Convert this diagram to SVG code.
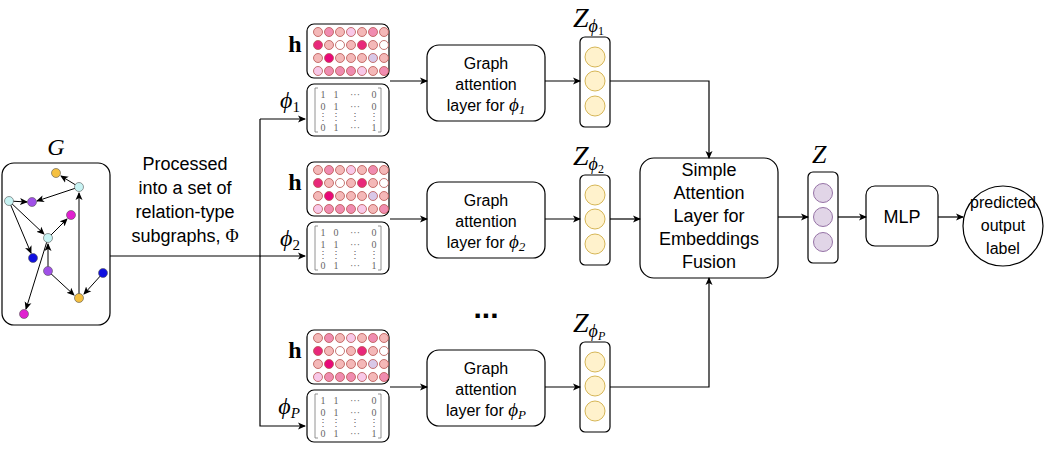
<svg xmlns="http://www.w3.org/2000/svg" width="1062" height="463" viewBox="0 0 1062 463">
<defs>
<marker id="a" markerWidth="8" markerHeight="8" refX="7" refY="4" orient="auto" markerUnits="userSpaceOnUse"><path d="M0,0.5 L8,4 L0,7.5 L2,4 Z" fill="#000"/></marker>
<g id="hgrid">
<rect x="307" y="24" width="82" height="54" rx="7" fill="#fff" stroke="#000" stroke-width="1.2"/>
<g stroke="#b85450" stroke-width="0.8">
<circle cx="318" cy="32" r="4.5" fill="#f4b8b8"/><circle cx="329" cy="32" r="4.5" fill="#f08cb0"/><circle cx="340" cy="32" r="4.5" fill="#f4b8b8"/><circle cx="351" cy="32" r="4.5" fill="#f8c8e8"/><circle cx="362" cy="32" r="4.5" fill="#f4b8b8"/><circle cx="373" cy="32" r="4.5" fill="#f08cb0"/><circle cx="384" cy="32" r="4.5" fill="#f4b8b8"/>
<circle cx="318" cy="45" r="4.5" fill="#e8287a"/><circle cx="329" cy="45" r="4.5" fill="#f4b8b8"/><circle cx="340" cy="45" r="4.5" fill="#fff"/><circle cx="351" cy="45" r="4.5" fill="#f4b8b8"/><circle cx="362" cy="45" r="4.5" fill="#e8287a"/><circle cx="373" cy="45" r="4.5" fill="#f4b8b8"/><circle cx="384" cy="45" r="4.5" fill="#fff"/>
<circle cx="318" cy="58" r="4.5" fill="#f4b8b8"/><circle cx="329" cy="58" r="4.5" fill="#e8087a"/><circle cx="340" cy="58" r="4.5" fill="#f4b8b8"/><circle cx="351" cy="58" r="4.5" fill="#f4b8b8"/><circle cx="362" cy="58" r="4.5" fill="#f4b8b8"/><circle cx="373" cy="58" r="4.5" fill="#d8c8e8"/><circle cx="384" cy="58" r="4.5" fill="#f4b8b8"/>
<circle cx="318" cy="71" r="4.5" fill="#f8c8e8"/><circle cx="329" cy="71" r="4.5" fill="#f08cb0"/><circle cx="340" cy="71" r="4.5" fill="#f08cb0"/><circle cx="351" cy="71" r="4.5" fill="#f08cb0"/><circle cx="362" cy="71" r="4.5" fill="#f8c8e8"/><circle cx="373" cy="71" r="4.5" fill="#f4b8b8"/><circle cx="384" cy="71" r="4.5" fill="#f08cb0"/>
</g>
<text x="295" y="52" font-family="Liberation Serif, serif" font-weight="bold" font-size="24" text-anchor="middle">h</text>
</g>
<g id="zcol">
<rect x="580" y="37" width="30" height="90" rx="5" fill="#fff" stroke="#000" stroke-width="1.2"/>
<g fill="#fff2cc" stroke="#d6b656"><circle cx="595" cy="57" r="10"/><circle cx="595" cy="81" r="10"/><circle cx="595" cy="106" r="10"/></g>
</g>
</defs>
<style>
.t{font-family:"Liberation Sans",Arial,sans-serif;font-size:16px;text-anchor:middle}
.p{font-family:"Liberation Sans",Arial,sans-serif;font-size:18px;text-anchor:middle}
.m{font-family:"Liberation Serif",serif;font-size:10px;fill:#666;text-anchor:middle}
.mi{font-family:"Liberation Serif",serif;font-style:italic}
.box{fill:#fff;stroke:#000;stroke-width:1.2}
.c{fill:none;stroke:#000;stroke-width:1.2}
</style>

<g id="graph">
<text x="56" y="155" class="mi" font-size="24" text-anchor="middle">G</text>
<rect x="2" y="163" width="108" height="162" rx="12" class="box"/>
<g stroke="#000" stroke-width="1" marker-end="url(#a)">
<line x1="79" y1="187" x2="61" y2="176"/>
<line x1="79" y1="187" x2="37" y2="201"/>
<line x1="9" y1="201" x2="27" y2="202"/>
<line x1="9" y1="201" x2="31" y2="253"/>
<line x1="9" y1="201" x2="44" y2="234"/>
<line x1="48" y1="238" x2="67" y2="219"/>
<line x1="48" y1="238" x2="26" y2="309"/>
<line x1="48" y1="271" x2="48" y2="244"/>
<line x1="48" y1="271" x2="74" y2="295"/>
<line x1="103" y1="273" x2="84" y2="294"/>
<line x1="79" y1="298" x2="79" y2="193"/>
</g>
<g stroke="#555" stroke-width="0.6">
<circle cx="56" cy="173" r="4.5" fill="#f5c040"/><circle cx="79" cy="187" r="4.5" fill="#c8f4f4"/><circle cx="9" cy="201" r="4.5" fill="#c8f4f4"/><circle cx="32" cy="202" r="4.5" fill="#a050e8"/><circle cx="71" cy="215" r="4.5" fill="#e020d0"/><circle cx="48" cy="238" r="4.5" fill="#c8f4f4"/><circle cx="33" cy="258" r="4.5" fill="#1010e0"/><circle cx="48" cy="271" r="4.5" fill="#a050e8"/><circle cx="103" cy="273" r="4.5" fill="#1010e0"/><circle cx="79" cy="298" r="4.5" fill="#f5c040"/><circle cx="24" cy="314" r="4.5" fill="#e020d0"/>
</g>
</g>

<g id="process-label">
<text class="p" x="185" y="170">Processed</text>
<text class="p" x="185" y="194">into a set of</text>
<text class="p" x="185" y="218">relation-type</text>
<text class="p" x="185" y="242">subgraphs, <tspan font-family="Liberation Serif, serif">Φ</tspan></text>
</g>

<g id="panel1">
<use href="#hgrid"/>
<rect x="307" y="84" width="82" height="52" rx="7" class="box"/>
<path d="M318,88 h-3 v44 h3 M378,88 h3 v44 h-3" fill="none" stroke="#777" stroke-width="0.8"/>
<text class="m" x="323" y="98">1</text><text class="m" x="336" y="98">1</text><text class="m" x="355" y="98">···</text><text class="m" x="374" y="98">0</text>
<text class="m" x="323" y="110">0</text><text class="m" x="336" y="110">1</text><text class="m" x="355" y="110">···</text><text class="m" x="374" y="110">0</text>
<text class="m" x="323" y="120">⋮</text><text class="m" x="336" y="120">⋮</text><text class="m" x="355" y="120">⋮</text><text class="m" x="374" y="120">⋮</text>
<text class="m" x="323" y="131">0</text><text class="m" x="336" y="131">1</text><text class="m" x="355" y="131">···</text><text class="m" x="374" y="131">1</text>
<text x="290" y="108" class="mi" font-size="24" text-anchor="middle">ϕ<tspan font-size="15" font-style="normal" dy="4">1</tspan></text>
</g>
<g id="panel2" transform="translate(0,138)">
<use href="#hgrid"/>
<rect x="307" y="84" width="82" height="52" rx="7" class="box"/>
<path d="M318,88 h-3 v44 h3 M378,88 h3 v44 h-3" fill="none" stroke="#777" stroke-width="0.8"/>
<text class="m" x="323" y="98">1</text><text class="m" x="336" y="98">0</text><text class="m" x="355" y="98">···</text><text class="m" x="374" y="98">0</text>
<text class="m" x="323" y="110">1</text><text class="m" x="336" y="110">1</text><text class="m" x="355" y="110">···</text><text class="m" x="374" y="110">0</text>
<text class="m" x="323" y="120">⋮</text><text class="m" x="336" y="120">⋮</text><text class="m" x="355" y="120">⋮</text><text class="m" x="374" y="120">⋮</text>
<text class="m" x="323" y="131">0</text><text class="m" x="336" y="131">1</text><text class="m" x="355" y="131">···</text><text class="m" x="374" y="131">1</text>
<text x="290" y="108" class="mi" font-size="24" text-anchor="middle">ϕ<tspan font-size="15" font-style="normal" dy="4">2</tspan></text>
</g>
<g id="panelP" transform="translate(0,306)">
<use href="#hgrid"/>
<rect x="307" y="84" width="82" height="52" rx="7" class="box"/>
<path d="M318,88 h-3 v44 h3 M378,88 h3 v44 h-3" fill="none" stroke="#777" stroke-width="0.8"/>
<text class="m" x="323" y="98">1</text><text class="m" x="336" y="98">1</text><text class="m" x="355" y="98">···</text><text class="m" x="374" y="98">0</text>
<text class="m" x="323" y="110">0</text><text class="m" x="336" y="110">1</text><text class="m" x="355" y="110">···</text><text class="m" x="374" y="110">0</text>
<text class="m" x="323" y="120">⋮</text><text class="m" x="336" y="120">⋮</text><text class="m" x="355" y="120">⋮</text><text class="m" x="374" y="120">⋮</text>
<text class="m" x="323" y="131">0</text><text class="m" x="336" y="131">1</text><text class="m" x="355" y="131">···</text><text class="m" x="374" y="131">1</text>
<text x="289" y="108" class="mi" font-size="24" text-anchor="middle">ϕ<tspan font-size="15" dy="4">P</tspan></text>
</g>

<g id="gat1">
<rect x="427" y="45" width="118" height="76" rx="12" class="box"/>
<text class="t" x="486" y="69">Graph</text><text class="t" x="486" y="90">attention</text>
<text class="t" x="486" y="111">layer for <tspan class="mi" font-size="19">ϕ<tspan font-size="13" dy="3">1</tspan></tspan></text>
</g>
<g id="gat2">
<rect x="427" y="182" width="118" height="76" rx="12" class="box"/>
<text class="t" x="486" y="206">Graph</text><text class="t" x="486" y="227">attention</text>
<text class="t" x="486" y="248">layer for <tspan class="mi" font-size="19">ϕ<tspan font-size="13" dy="3">2</tspan></tspan></text>
</g>
<g id="gatP">
<rect x="427" y="350" width="118" height="76" rx="12" class="box"/>
<text class="t" x="486" y="374">Graph</text><text class="t" x="486" y="395">attention</text>
<text class="t" x="486" y="416">layer for <tspan class="mi" font-size="19">ϕ<tspan font-size="13" dy="3">P</tspan></tspan></text>
</g>
<text id="ellipsis" x="486" y="318" font-family="Liberation Sans, sans-serif" font-size="30" font-weight="bold" text-anchor="middle">...</text>

<g id="z1"><use href="#zcol"/><text x="573" y="27" class="mi" font-size="28">Z<tspan font-size="18" dy="5">ϕ</tspan><tspan font-size="12" font-style="normal" dy="3">1</tspan></text></g>
<g id="z2"><use href="#zcol" transform="translate(0,138)"/><text x="573" y="165" class="mi" font-size="28">Z<tspan font-size="18" dy="5">ϕ</tspan><tspan font-size="12" font-style="normal" dy="3">2</tspan></text></g>
<g id="zP"><use href="#zcol" transform="translate(0,305)"/><text x="573" y="332" class="mi" font-size="28">Z<tspan font-size="18" dy="5">ϕ</tspan><tspan font-size="12" dy="3">P</tspan></text></g>

<g id="fusion">
<rect x="640" y="158" width="138" height="120" rx="14" class="box"/>
<text class="p" x="709" y="176">Simple</text><text class="p" x="709" y="199">Attention</text>
<text class="p" x="709" y="222">Layer for</text><text class="p" x="709" y="245">Embeddings</text>
<text class="p" x="709" y="268">Fusion</text>
</g>
<g id="z">
<text x="812" y="163" class="mi" font-size="26">Z</text>
<rect x="808" y="172" width="30" height="91" rx="5" class="box"/>
<g fill="#e1d5e7" stroke="#9673a6"><circle cx="823" cy="193" r="9.5"/><circle cx="823" cy="217" r="9.5"/><circle cx="823" cy="242" r="9.5"/></g>
</g>
<g id="mlp"><rect x="866" y="186" width="72" height="60" rx="9" class="box"/><text class="p" x="902" y="223">MLP</text></g>
<g id="output"><circle cx="1003" cy="226" r="40" class="box"/>
<text class="t" x="1003" y="208">predicted</text><text class="t" x="1003" y="231">output</text><text class="t" x="1003" y="254">label</text></g>

<g id="connectors" class="c">
<path d="M110,256 H260 V119" fill="none"/>
<path d="M260,119 H305" marker-end="url(#a)"/>
<path d="M260,256 H305" marker-end="url(#a)"/>
<path d="M260,256 V426 H305" marker-end="url(#a)"/>
<path d="M390,81 H427" marker-end="url(#a)"/>
<path d="M390,219 H427" marker-end="url(#a)"/>
<path d="M390,387 H427" marker-end="url(#a)"/>
<path d="M545,81 H580" marker-end="url(#a)"/>
<path d="M545,219 H580" marker-end="url(#a)"/>
<path d="M545,387 H580" marker-end="url(#a)"/>
<path d="M610,81 H709 V158" marker-end="url(#a)"/>
<path d="M610,219 H640" marker-end="url(#a)"/>
<path d="M610,387 H709 V278" marker-end="url(#a)"/>
<path d="M778,217 H808" marker-end="url(#a)"/>
<path d="M838,217 H866" marker-end="url(#a)"/>
<path d="M938,217 H963" marker-end="url(#a)"/>
</g>
</svg>
